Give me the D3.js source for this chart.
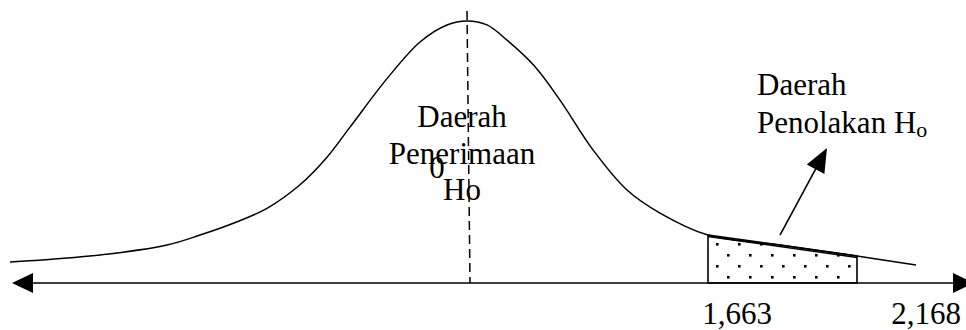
<!DOCTYPE html>
<html>
<head>
<meta charset="utf-8">
<script src="https://cdn.jsdelivr.net/npm/d3@7"></script>
<style>
  html, body { margin: 0; padding: 0; background: #fff; }
  svg { display: block; }
  text { font-family: "Liberation Serif", "Times New Roman", serif; fill: #000; }
</style>
</head>
<body>
<svg id="chart" width="966" height="330"></svg>
<script>
// ---- data (schematic units: 0 = centre of the curve) ----
const curveU = [-4.57, -3.67, -3.00, -2.67, -2.33, -2.00, -1.67, -1.40, -1.17, -0.80, -0.47, -0.20, 0.00,
                 0.20, 0.40, 0.67, 0.93, 1.26, 1.60, 1.93, 2.41, 3.13, 3.90, 4.49];
const curveD = [0.080, 0.107, 0.145, 0.183, 0.229, 0.285, 0.375, 0.480, 0.595, 0.780, 0.920, 0.985, 1.000,
                0.985, 0.927, 0.830, 0.698, 0.508, 0.355, 0.267, 0.183, 0.145, 0.103, 0.069];
const rejectStart = 2.41, rejectEnd = 3.90;
const tickLabels = ["1,663", "2,168"];
const tickValues = [2.70, 4.59];
const centreLabel = ["Daerah", "Penerimaan", "Ho"];
const zeroLabel = "0";
const rejectLabel = ["Daerah", "Penolakan H"];
const rejectSub = "o";

// ---- scales ----
const W = 966, H = 330;
const x = d3.scaleLinear().domain([-4.67, 4.99]).range([0, W]);
const y = d3.scaleLinear().domain([0, 1]).range([283, 21]);

const svg = d3.select("#chart");
const defs = svg.append("defs");

// dotted fill pattern
const pat = defs.append("pattern").attr("id", "dots")
  .attr("patternUnits", "userSpaceOnUse").attr("width", 22).attr("height", 22);
pat.append("rect").attr("x", 1).attr("y", 12).attr("width", 2.6).attr("height", 2.6).attr("fill", "#000");
pat.append("rect").attr("x", 12).attr("y", 1).attr("width", 2.6).attr("height", 2.6).attr("fill", "#000");

const pts = curveU.map((u, i) => [u, curveD[i]]);

// rejection region (area under curve)
const rej = pts.filter(p => p[0] >= rejectStart - 1e-9 && p[0] <= rejectEnd + 1e-9);
const area = d3.area().x(d => x(d[0])).y0(y(0)).y1(d => y(d[1])).curve(d3.curveLinear);
svg.append("path").datum(rej).attr("d", area)
  .attr("fill", "url(#dots)").attr("stroke", "#000").attr("stroke-width", 1.6);
// slightly offset second top edge (thick look in reference)
const topLine = d3.line().x(d => x(d[0])).y(d => y(d[1]) + 1.5);
svg.append("path").datum(rej).attr("d", topLine)
  .attr("fill", "none").attr("stroke", "#000").attr("stroke-width", 1.4);

// curve
const line = d3.line().x(d => x(d[0])).y(d => y(d[1])).curve(d3.curveCatmullRom.alpha(0.5));
svg.append("path").datum(pts).attr("d", line)
  .attr("fill", "none").attr("stroke", "#000").attr("stroke-width", 1.5);

// horizontal axis with arrows at both ends
const axY = y(0);
const leftTip = 12, rightTip = 974, headLen = 21, headHalf = 10;
svg.append("line").attr("x1", leftTip + 5).attr("x2", rightTip - 5)
  .attr("y1", axY).attr("y2", axY).attr("stroke", "#000").attr("stroke-width", 1.5);
svg.append("path").attr("d", `M${leftTip},${axY}L${leftTip + headLen},${axY - headHalf}L${leftTip + headLen},${axY + headHalf}Z`).attr("fill", "#000");
svg.append("path").attr("d", `M${rightTip},${axY}L${rightTip - headLen},${axY - headHalf}L${rightTip - headLen},${axY + headHalf}Z`).attr("fill", "#000");

// centre dashed line
svg.append("line").attr("x1", x(0)).attr("y1", 11).attr("x2", x(0.03)).attr("y2", axY)
  .attr("stroke", "#000").attr("stroke-width", 1.5).attr("stroke-dasharray", "9,5");

// pointer arrow
const a0 = [x(3.13), y(0.183)], a1 = [x(3.60), y(0.515)];
const ang = Math.atan2(a1[1] - a0[1], a1[0] - a0[0]);
const hl = 24, hw = 10;
const bx = a1[0] - hl * Math.cos(ang), by = a1[1] - hl * Math.sin(ang);
svg.append("line").attr("x1", a0[0]).attr("y1", a0[1]).attr("x2", bx).attr("y2", by)
  .attr("stroke", "#000").attr("stroke-width", 1.6);
svg.append("path").attr("d",
  `M${a1[0]},${a1[1]}L${bx + hw * Math.sin(ang)},${by - hw * Math.cos(ang)}L${bx - hw * Math.sin(ang)},${by + hw * Math.cos(ang)}Z`)
  .attr("fill", "#000");

// texts
const fs = 31;
const cx = 462;
svg.selectAll("text.centre").data(centreLabel).enter().append("text")
  .attr("class", "centre").attr("x", cx).attr("y", (d, i) => 127 + i * 36.5)
  .attr("text-anchor", "middle").attr("font-size", fs).text(d => d);
svg.append("text").attr("x", 437).attr("y", 178).attr("text-anchor", "middle")
  .attr("font-size", fs).text(zeroLabel);

svg.append("text").attr("x", 757).attr("y", 95).attr("font-size", fs).text(rejectLabel[0]);
const t2 = svg.append("text").attr("x", 757).attr("y", 133).attr("font-size", fs);
t2.append("tspan").text(rejectLabel[1]);
t2.append("tspan").attr("font-size", 22).attr("dy", 4).text(rejectSub);

svg.selectAll("text.tick").data(tickLabels).enter().append("text")
  .attr("class", "tick").attr("x", (d, i) => x(tickValues[i])).attr("y", 324)
  .attr("text-anchor", "middle").attr("font-size", fs).text(d => d);
</script>
</body>
</html>
